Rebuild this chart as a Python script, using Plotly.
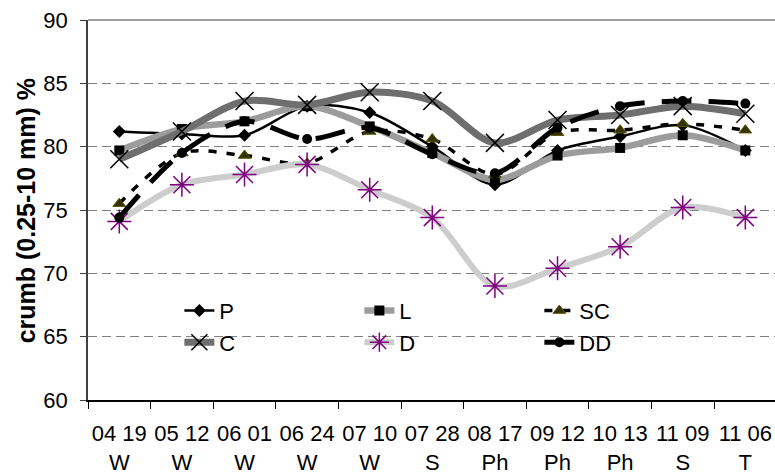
import plotly.graph_objects as go

categories = ["04 19<br>W", "05 12<br>W", "06 01<br>W", "06 24<br>W", "07 10<br>W",
              "07 28<br>S", "08 17<br>Ph", "09 12<br>Ph", "10 13<br>Ph", "11 09<br>S", "11 06<br>T"]

P = [81.2, 81.0, 80.9, 83.2, 82.7, 80.0, 77.0, 79.7, 80.8, 81.7, 79.7]
L = [79.7, 81.4, 82.0, 83.2, 81.6, 79.5, 77.4, 79.3, 79.9, 80.9, 79.7]
SC = [75.5, 79.5, 79.3, 78.7, 81.2, 80.6, 77.8, 81.1, 81.3, 81.8, 81.3]
C = [79.0, 81.2, 83.6, 83.3, 84.3, 83.6, 80.3, 82.1, 82.5, 83.2, 82.6]
D = [74.1, 77.0, 77.8, 78.6, 76.6, 74.4, 69.0, 70.4, 72.1, 75.2, 74.4]
DD = [74.4, 79.5, 82.0, 80.6, 81.5, 79.4, 77.9, 81.5, 83.2, 83.6, 83.4]

y_ticks = [60, 65, 70, 75, 80, 85, 90]
y_title = "crumb (0.25-10 mm) %"

FONT = "Arial, Liberation Sans, sans-serif"

series = [
    dict(name="P", y=P, line=dict(color="black", width=2.5),
         marker=dict(symbol="diamond", size=10, color="black")),
    dict(name="L", y=L, line=dict(color="#9c9c9c", width=6.5),
         marker=dict(symbol="square", size=10, color="black")),
    dict(name="SC", y=SC, line=dict(color="black", width=3.5, dash="8px,10px"),
         marker=dict(symbol="triangle-up", size=11, color="#333300",
                     line=dict(color="#555500", width=1))),
    dict(name="C", y=C, line=dict(color="#6e6e6e", width=7),
         marker=dict(symbol="x-thin-open", size=18, color="black",
                     line=dict(color="black", width=1.5))),
    dict(name="D", y=D, line=dict(color="#cdcdcd", width=6),
         marker=dict(symbol="asterisk-open", size=20, color="#800080",
                     line=dict(color="#800080", width=1.5))),
    dict(name="DD", y=DD, line=dict(color="black", width=5, dash="30px,17px"),
         marker=dict(symbol="circle", size=10, color="black")),
]

fig = go.Figure()
for s in series:
    line = dict(s["line"])
    line["shape"] = "spline"
    line["smoothing"] = 0.9
    fig.add_trace(go.Scatter(x=categories, y=s["y"], name=s["name"], mode="lines+markers",
                             line=line, marker=s["marker"]))

fig.update_layout(
    width=775, height=475,
    margin=dict(l=88, r=0, t=20, b=75, autoexpand=False),
    paper_bgcolor="white", plot_bgcolor="white",
    font=dict(family=FONT, size=22, color="black"),
    showlegend=True,
    legend=dict(orientation="h", x=0.133, xanchor="left", y=0.29, yanchor="top",
                bgcolor="rgba(0,0,0,0)", entrywidth=135, entrywidthmode="pixels",
                font=dict(family=FONT, size=22, color="black"),
                tracegroupgap=0),
    shapes=[
        dict(type="rect", xref="paper", yref="y", x0=0, x1=(637 - 88) / 687, y0=63.0, y1=68.2,
             fillcolor="white", line=dict(width=0), layer="between"),
        dict(type="line", xref="paper", yref="paper", x0=0, x1=1, y0=1, y1=1,
             line=dict(color="#808080", width=1.5)),
    ],
    annotations=[
        dict(text="<b>" + y_title + "</b>", xref="paper", yref="paper", x=-0.09, y=0.497,
             xanchor="center", yanchor="middle", textangle=-90, showarrow=False,
             font=dict(family=FONT, size=25, color="black")),
    ],
)

fig.update_xaxes(type="category", range=[-0.5, 10.474], tickson="boundaries",
                 ticks="outside", ticklen=7, tickcolor="black", tickwidth=1,
                 showline=True, linecolor="black", linewidth=1.5, showgrid=False,
                 automargin=False, ticklabelstandoff=13, ticklabeloverflow="allow",
                 tickfont=dict(family=FONT, size=22, color="black"), tickangle=0)

fig.update_yaxes(range=[60, 90], tickvals=y_ticks, ticks="outside", ticklen=6,
                 tickcolor="#404040", showline=True, linecolor="#404040", linewidth=1.5,
                 showgrid=True, gridcolor="#808080", gridwidth=1, griddash="9px,5px",
                 zeroline=False, ticklabelstandoff=8, automargin=False,
                 ticklabeloverflow="allow",
                 tickfont=dict(family=FONT, size=22, color="black"))

fig.write_html("out.html", config={"displayModeBar": False},
               post_script="document.body.style.margin='0';document.body.style.overflow='hidden';")
